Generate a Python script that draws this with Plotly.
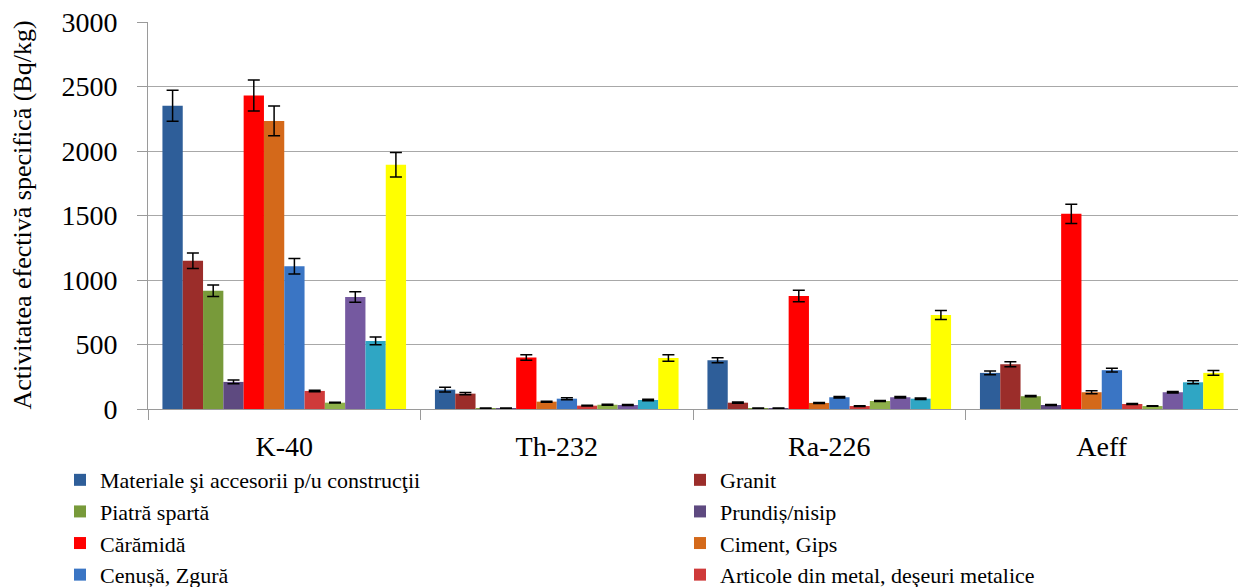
import plotly.graph_objects as go

categories = ["K-40", "Th-232", "Ra-226", "Aeff"]

series_names = [
    "Materiale şi accesorii p/u construcţii",
    "Granit",
    "Piatră spartă",
    "Prundiș/nisip",
    "Cărămidă",
    "Ciment, Gips",
    "Cenușă, Zgură",
    "Articole din metal, deşeuri metalice",
    "Seria 9",
    "Seria 10",
    "Seria 11",
    "Seria 12",
]

values = [
    [2350, 150, 378, 280],
    [1150, 119, 49, 347],
    [917, 5, 5, 99],
    [210, 5, 5, 31],
    [2430, 399, 876, 1513],
    [2233, 57, 47, 130],
    [1106, 80, 91, 301],
    [140, 26, 23, 39],
    [49, 33, 62, 23],
    [868, 31, 91, 130],
    [528, 70, 80, 207],
    [1894, 396, 728, 280],
]

errors = [
    [120, 18, 20, 15],
    [60, 8, 5, 20],
    [45, 2, 2, 5],
    [15, 2, 2, 3],
    [120, 22, 45, 75],
    [115, 4, 4, 12],
    [60, 8, 6, 15],
    [6, 3, 3, 4],
    [3, 3, 4, 2],
    [40, 4, 6, 6],
    [30, 6, 6, 12],
    [95, 25, 35, 18],
]

colors = [
    "#2E5E99", "#9B2D2A", "#789A3A", "#5E4A80", "#FF0000", "#D4691A",
    "#3A75C4", "#CF3A3A", "#8EB04A", "#7559A0", "#2FA6C4", "#FFFF00",
]

y_title = "Activitatea efectivă specifică (Bq/kg)"

visible_in_legend = 8

fig = go.Figure()
for i, name in enumerate(series_names):
    fig.add_trace(go.Bar(
        name=name,
        x=categories,
        y=values[i],
        marker=dict(color=colors[i], line=dict(width=0)),
        error_y=dict(type="data", array=errors[i], visible=True,
                     color="black", thickness=1.5, width=6),
        showlegend=i < visible_in_legend,
        legend="legend" if i % 2 == 0 else "legend2",
    ))

font_family = "Liberation Serif, Times New Roman, serif"
legend_font = dict(family=font_family, size=22, color="black")

common_legend = dict(
    orientation="v", xref="container", yref="container",
    y=0.218, xanchor="left", yanchor="top",
    font=legend_font, itemwidth=30, tracegroupgap=0,
    traceorder="normal", bgcolor="rgba(0,0,0,0)",
)

plot_left, plot_width = 148, 1090

fig.update_layout(
    width=1238, height=587,
    barmode="group", bargap=0.106, bargroupgap=0,
    plot_bgcolor="white", paper_bgcolor="white",
    margin=dict(l=plot_left, r=0, t=22, b=178, autoexpand=False),
    font=dict(family=font_family, color="black"),
    legend=dict(x=60 / 1238, **common_legend),
    legend2=dict(x=680 / 1238, **common_legend),
    xaxis=dict(
        showline=True, linecolor="#9A9A9A", linewidth=1,
        ticks="outside", tickson="boundaries", ticklen=10, tickcolor="#9A9A9A",
        tickfont=dict(family=font_family, size=28, color="black"),
        ticklabelstandoff=12, tickangle=0,
        showgrid=False,
    ),
    yaxis=dict(
        range=[0, 3000], dtick=500,
        showline=True, linecolor="#9A9A9A", linewidth=1,
        ticks="outside", ticklen=10, tickcolor="#9A9A9A",
        gridcolor="#A8A8A8", gridwidth=1,
        tickfont=dict(family=font_family, size=28, color="black"),
        ticksuffix="\u00a0\u00a0",
        zeroline=False,
    ),
    annotations=[dict(
        text=y_title, textangle=-90,
        xref="paper", yref="paper",
        x=(22 - plot_left) / plot_width, y=0.5,
        xanchor="center", yanchor="middle", showarrow=False,
        font=dict(family=font_family, size=26, color="black"),
    )],
)

fig.write_html("out.html", config={"displayModeBar": False},
               post_script="document.body.style.margin='0';")
